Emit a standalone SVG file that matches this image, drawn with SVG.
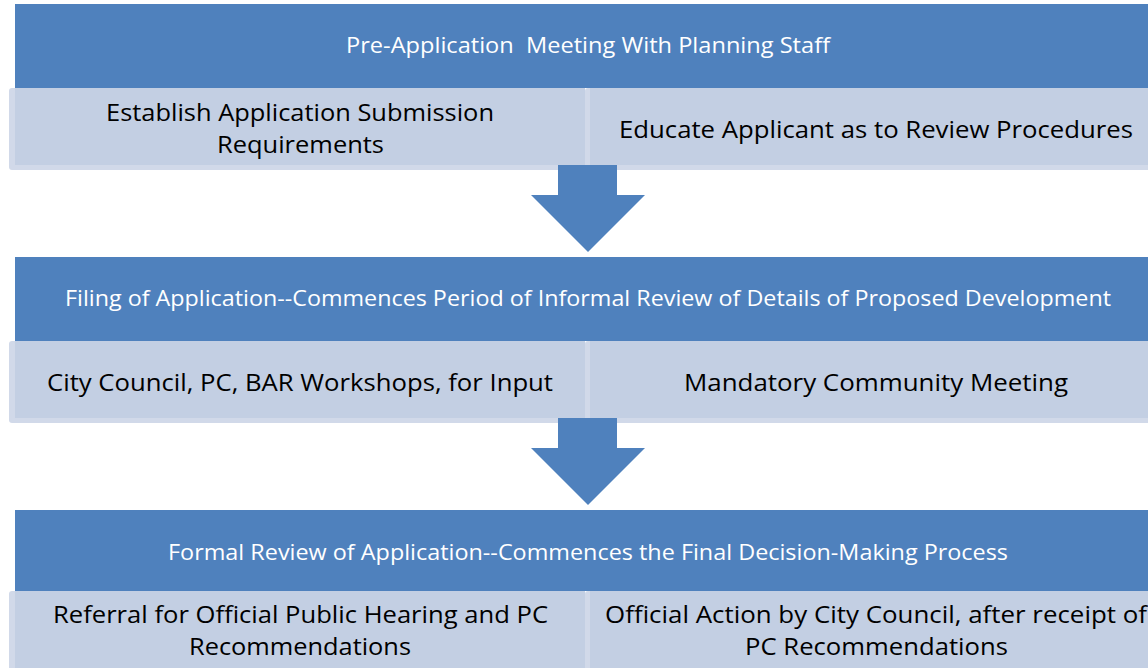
<svg xmlns="http://www.w3.org/2000/svg" width="1148" height="668" viewBox="0 0 1148 668">
  <style>
    .hdr { fill: #4F81BD; }
    .edge { fill: #D1D9E9; }
    .body { fill: #C3CFE3; }
    .arrow { fill: #4F81BD; }
    .htext { font-family: "Open Sans", "Noto Sans", sans-serif; font-size: 21px; fill: #FFFFFF; }
    .btext { font-family: "Open Sans", "Noto Sans", sans-serif; font-size: 24px; fill: #000000; }
  </style>
  <rect width="1148" height="668" fill="#FFFFFF"/>

  <!-- Stage 1 -->
  <g id="stage1-header">
    <rect class="hdr" x="15" y="4" width="1147" height="84"/>
    <text class="htext" x="346" y="53" textLength="484" lengthAdjust="spacingAndGlyphs" xml:space="preserve">Pre-Application  Meeting With Planning Staff</text>
  </g>
  <g id="stage1-left">
    <rect class="edge" x="9" y="88" width="576" height="82" rx="3"/>
    <rect class="body" x="15" y="88" width="570" height="77"/>
    <text class="btext" x="106" y="121" textLength="388" lengthAdjust="spacingAndGlyphs">Establish Application Submission</text>
    <text class="btext" x="217" y="153" textLength="167" lengthAdjust="spacingAndGlyphs">Requirements</text>
  </g>
  <g id="stage1-right">
    <rect class="edge" x="585" y="88" width="577" height="82" rx="3"/>
    <rect class="body" x="590" y="88" width="572" height="77"/>
    <text class="btext" x="619" y="138" textLength="514" lengthAdjust="spacingAndGlyphs">Educate Applicant as to Review Procedures</text>
  </g>

  <!-- Stage 2 -->
  <g id="stage2-header">
    <rect class="hdr" x="15" y="257" width="1147" height="84"/>
    <text class="htext" x="65" y="306" textLength="1046" lengthAdjust="spacingAndGlyphs">Filing of Application--Commences Period of Informal Review of Details of Proposed Development</text>
  </g>
  <g id="stage2-left">
    <rect class="edge" x="9" y="341" width="576" height="82" rx="3"/>
    <rect class="body" x="15" y="341" width="570" height="77"/>
    <text class="btext" x="47" y="391" textLength="506" lengthAdjust="spacingAndGlyphs">City Council, PC, BAR Workshops, for Input</text>
  </g>
  <g id="stage2-right">
    <rect class="edge" x="585" y="341" width="577" height="82" rx="3"/>
    <rect class="body" x="590" y="341" width="572" height="77"/>
    <text class="btext" x="684" y="391" textLength="384" lengthAdjust="spacingAndGlyphs">Mandatory Community Meeting</text>
  </g>

  <!-- Stage 3 -->
  <g id="stage3-header">
    <rect class="hdr" x="15" y="510" width="1147" height="81"/>
    <text class="htext" x="168" y="560" textLength="840" lengthAdjust="spacingAndGlyphs">Formal Review of Application--Commences the Final Decision-Making Process</text>
  </g>
  <g id="stage3-left">
    <rect class="edge" x="9" y="591" width="576" height="82" rx="3"/>
    <rect class="body" x="15" y="591" width="570" height="82"/>
    <text class="btext" x="53" y="623" textLength="495" lengthAdjust="spacingAndGlyphs">Referral for Official Public Hearing and PC</text>
    <text class="btext" x="189" y="655" textLength="222" lengthAdjust="spacingAndGlyphs">Recommendations</text>
  </g>
  <g id="stage3-right">
    <rect class="edge" x="585" y="591" width="577" height="82" rx="3"/>
    <rect class="body" x="590" y="591" width="572" height="82"/>
    <text class="btext" x="605" y="623" textLength="542" lengthAdjust="spacingAndGlyphs">Official Action by City Council, after receipt of</text>
    <text class="btext" x="745" y="655" textLength="263" lengthAdjust="spacingAndGlyphs">PC Recommendations</text>
  </g>

  <!-- Downward arrows between stages -->
  <g id="connectors">
    <polygon class="arrow" points="558,165 617,165 617,195 645,195 588,252 531,195 558,195"/>
    <polygon class="arrow" points="558,418 617,418 617,448 645,448 588,505 531,448 558,448"/>
  </g>
</svg>
